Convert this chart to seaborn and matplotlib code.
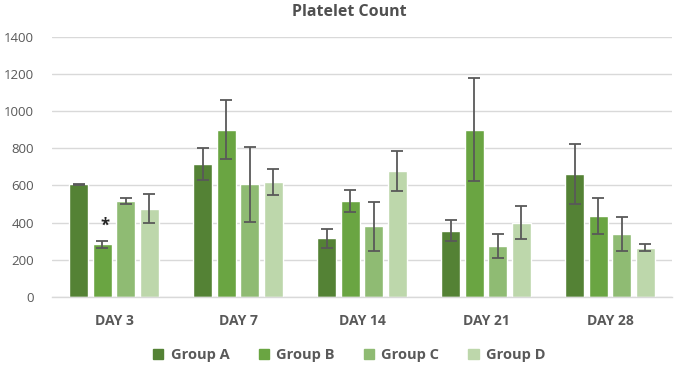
import numpy as np
import pandas as pd
import matplotlib
matplotlib.use("Agg")
import matplotlib.pyplot as plt
import seaborn as sns

# ---------------------------------------------------------------------
# data (mean +/- sd)
# ---------------------------------------------------------------------
days = ["DAY 3", "DAY 7", "DAY 14", "DAY 21", "DAY 28"]
groups = ["Group A", "Group B", "Group C", "Group D"]

group_a = [605, 715, 315, 355, 660]
group_b = [283, 900, 515, 900, 435]
group_c = [515, 605, 380, 272, 338]
group_d = [475, 618, 675, 400, 265]

err_a = [3, 84, 50, 57, 160]
err_b = [20, 157, 60, 276, 97]
err_c = [18, 200, 132, 64, 92]
err_d = [77, 72, 108, 88, 17]

colors = ["#548235", "#6aa542", "#8fbb73", "#bdd7ab"]

means = [group_a, group_b, group_c, group_d]
errs = [err_a, err_b, err_c, err_d]

rows = []
for g, m, e in zip(groups, means, errs):
    for d, v, s in zip(days, m, e):
        rows.append({"day": d, "group": g, "count": v, "sd": s})
df = pd.DataFrame(rows)

# ---------------------------------------------------------------------
# plot
# ---------------------------------------------------------------------
sns.set_style("white")
plt.rcParams["font.family"] = ["Open Sans", "DejaVu Sans"]

fig = plt.figure(figsize=(6.85, 3.73), dpi=100)
ax = fig.add_axes([0.076, 0.204, 0.905, 0.698])

sns.barplot(data=df, x="day", y="count", hue="group", order=days,
            hue_order=groups, palette=colors, width=0.76, gap=0.18,
            errorbar=None, saturation=1, legend=False, ax=ax)

# error bars placed on the bars seaborn drew
for container, g in zip(ax.containers, groups):
    sub = df[df["group"] == g].set_index("day").loc[days]
    xs = [p.get_x() + p.get_width() / 2 for p in container.patches]
    ax.errorbar(xs, sub["count"], yerr=sub["sd"], fmt="none",
                ecolor="#595959", elinewidth=1.3, capsize=4.6, capthick=1.3,
                zorder=5)

# significance star over Group B on DAY 3
pB = ax.containers[1].patches[0]
ax.text(pB.get_x() + pB.get_width() / 2 + 0.02, 385, "*", ha="center",
        va="center", fontsize=12, fontweight="bold", color="#262626")

ax.set_ylim(0, 1400)
ax.set_xlim(-0.5, 4.5)
ax.set_yticks(range(0, 1401, 200))
ax.yaxis.grid(True, color="#d9d9d9", linewidth=1)
ax.set_axisbelow(True)
for s in ["top", "right", "left"]:
    ax.spines[s].set_visible(False)
ax.spines["bottom"].set_color("#d9d9d9")
ax.spines["bottom"].set_linewidth(1)
ax.tick_params(axis="y", length=0, colors="#595959", labelsize=9.5, pad=13)
ax.tick_params(axis="x", length=0, colors="#595959", labelsize=10, pad=12)
for lbl in ax.get_xticklabels():
    lbl.set_fontweight("bold")
ax.set_xlabel("")
ax.set_ylabel("")

fig.suptitle("Platelet Count", x=0.51, y=0.99, fontsize=11.5,
             fontweight="bold", color="#505050")

handles = [plt.Rectangle((0, 0), 1, 1, color=c) for c in colors]
fig.legend(handles, groups, loc="lower center", bbox_to_anchor=(0.51, -0.005),
           ncol=4, frameon=False, handlelength=0.7, handleheight=0.7,
           columnspacing=2.0, handletextpad=0.5,
           prop={"size": 10.5, "weight": "bold"}, labelcolor="#595959")

fig.savefig("out.png", dpi=100)
